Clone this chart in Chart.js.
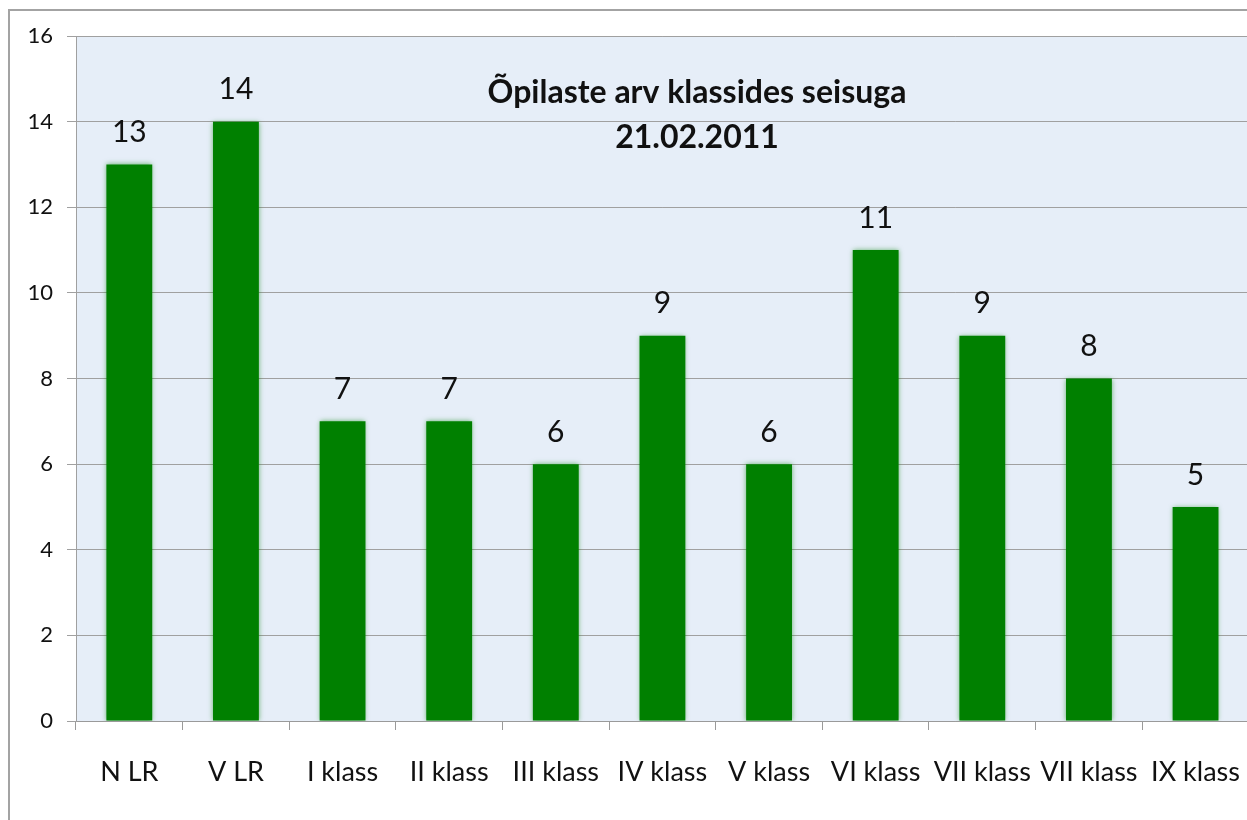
<!DOCTYPE html>
<html lang="et">
<head>
    <meta charset="UTF-8">
    <title>Õpilaste arv klassides</title>
    <script src="https://cdn.jsdelivr.net/npm/chart.js@4.4.0/dist/chart.umd.min.js"></script>
    <style>
        html, body { margin: 0; padding: 0; background: #fff; overflow: hidden; }
        #frame {
            position: absolute; left: 8px; top: 9px; width: 1400px; height: 900px;
            border-left: 2px solid #a3a3a3; border-top: 2px solid #a3a3a3;
        }
        #wrap { position: absolute; left: 0; top: 0; width: 1266px; height: 820px; }
    </style>
</head>
<body>
    <div id="frame"></div>
    <div id="wrap"><canvas id="classChart"></canvas></div>

    <script>
        // data
        const classLabels = ['N LR', 'V LR', 'I klass', 'II klass', 'III klass', 'IV klass', 'V klass', 'VI klass', 'VII klass', 'VII klass', 'IX klass'];
        const studentCounts = [13, 14, 7, 7, 6, 9, 6, 11, 9, 8, 5];
        const titleLines = ['Õpilaste arv klassides seisuga', '21.02.2011'];

        const fontName = 'Lato, "Open Sans", sans-serif';

        // light blue plot background
        const plotBg = {
            id: 'plotBg',
            beforeDraw(chart) {
                const a = chart.chartArea;
                const ctx = chart.ctx;
                ctx.save();
                ctx.fillStyle = '#e6eef8';
                ctx.fillRect(a.left, a.top, a.right - a.left, a.bottom - a.top);
                ctx.restore();
            }
        };

        // soft glow on bars
        const barGlow = {
            id: 'barGlow',
            beforeDatasetsDraw(chart) {
                chart.ctx.save();
                chart.ctx.shadowColor = 'rgba(0,128,0,0.55)';
                chart.ctx.shadowBlur = 5;
            },
            afterDatasetsDraw(chart) {
                chart.ctx.restore();
            }
        };

        // values above bars + title inside plot
        const labelsAndTitle = {
            id: 'labelsAndTitle',
            afterDraw(chart) {
                const ctx = chart.ctx;
                const meta = chart.getDatasetMeta(0);
                ctx.save();
                ctx.fillStyle = '#111';
                ctx.textAlign = 'center';
                ctx.textBaseline = 'middle';
                ctx.font = '30px ' + fontName;
                meta.data.forEach(function (bar, i) {
                    ctx.fillText(studentCounts[i].toString(), bar.x, bar.y - 32);
                });
                const a = chart.chartArea;
                ctx.font = 'bold 32px ' + fontName;
                ctx.fillText(titleLines[0], a.left + 621, a.top + 57);
                ctx.fillText(titleLines[1], a.left + 621, a.top + 102);
                ctx.restore();
            }
        };

        new Chart('classChart', {
            type: 'bar',
            data: {
                labels: classLabels,
                datasets: [{
                    data: studentCounts,
                    backgroundColor: '#008000',
                    borderWidth: 0,
                    categoryPercentage: 1,
                    barPercentage: 0.43
                }]
            },
            options: {
                responsive: true,
                maintainAspectRatio: false,
                animation: false,
                layout: { padding: { top: 36, left: 0, right: 0, bottom: 0 } },
                plugins: {
                    legend: { display: false },
                    tooltip: { enabled: false }
                },
                scales: {
                    x: {
                        grid: {
                            drawOnChartArea: false,
                            drawTicks: true,
                            tickLength: 9,
                            color: '#9a9a9a',
                            offset: true
                        },
                        border: { color: '#9a9a9a', width: 1 },
                        ticks: {
                            color: '#111',
                            padding: 26,
                            maxRotation: 0,
                            autoSkip: false,
                            font: { family: fontName, size: 27 }
                        },
                        afterFit(scale) { scale.height = 99; }
                    },
                    y: {
                        min: 0,
                        max: 16,
                        ticks: {
                            stepSize: 2,
                            color: '#111',
                            padding: 14,
                            font: { family: fontName, size: 22 }
                        },
                        grid: {
                            color: '#a0a0a0',
                            tickLength: 9,
                            drawTicks: true
                        },
                        border: { color: '#a0a0a0', width: 1 },
                        afterFit(scale) { scale.width = 76; }
                    }
                }
            },
            plugins: [plotBg, barGlow, labelsAndTitle]
        });
    </script>
</body>
</html>
